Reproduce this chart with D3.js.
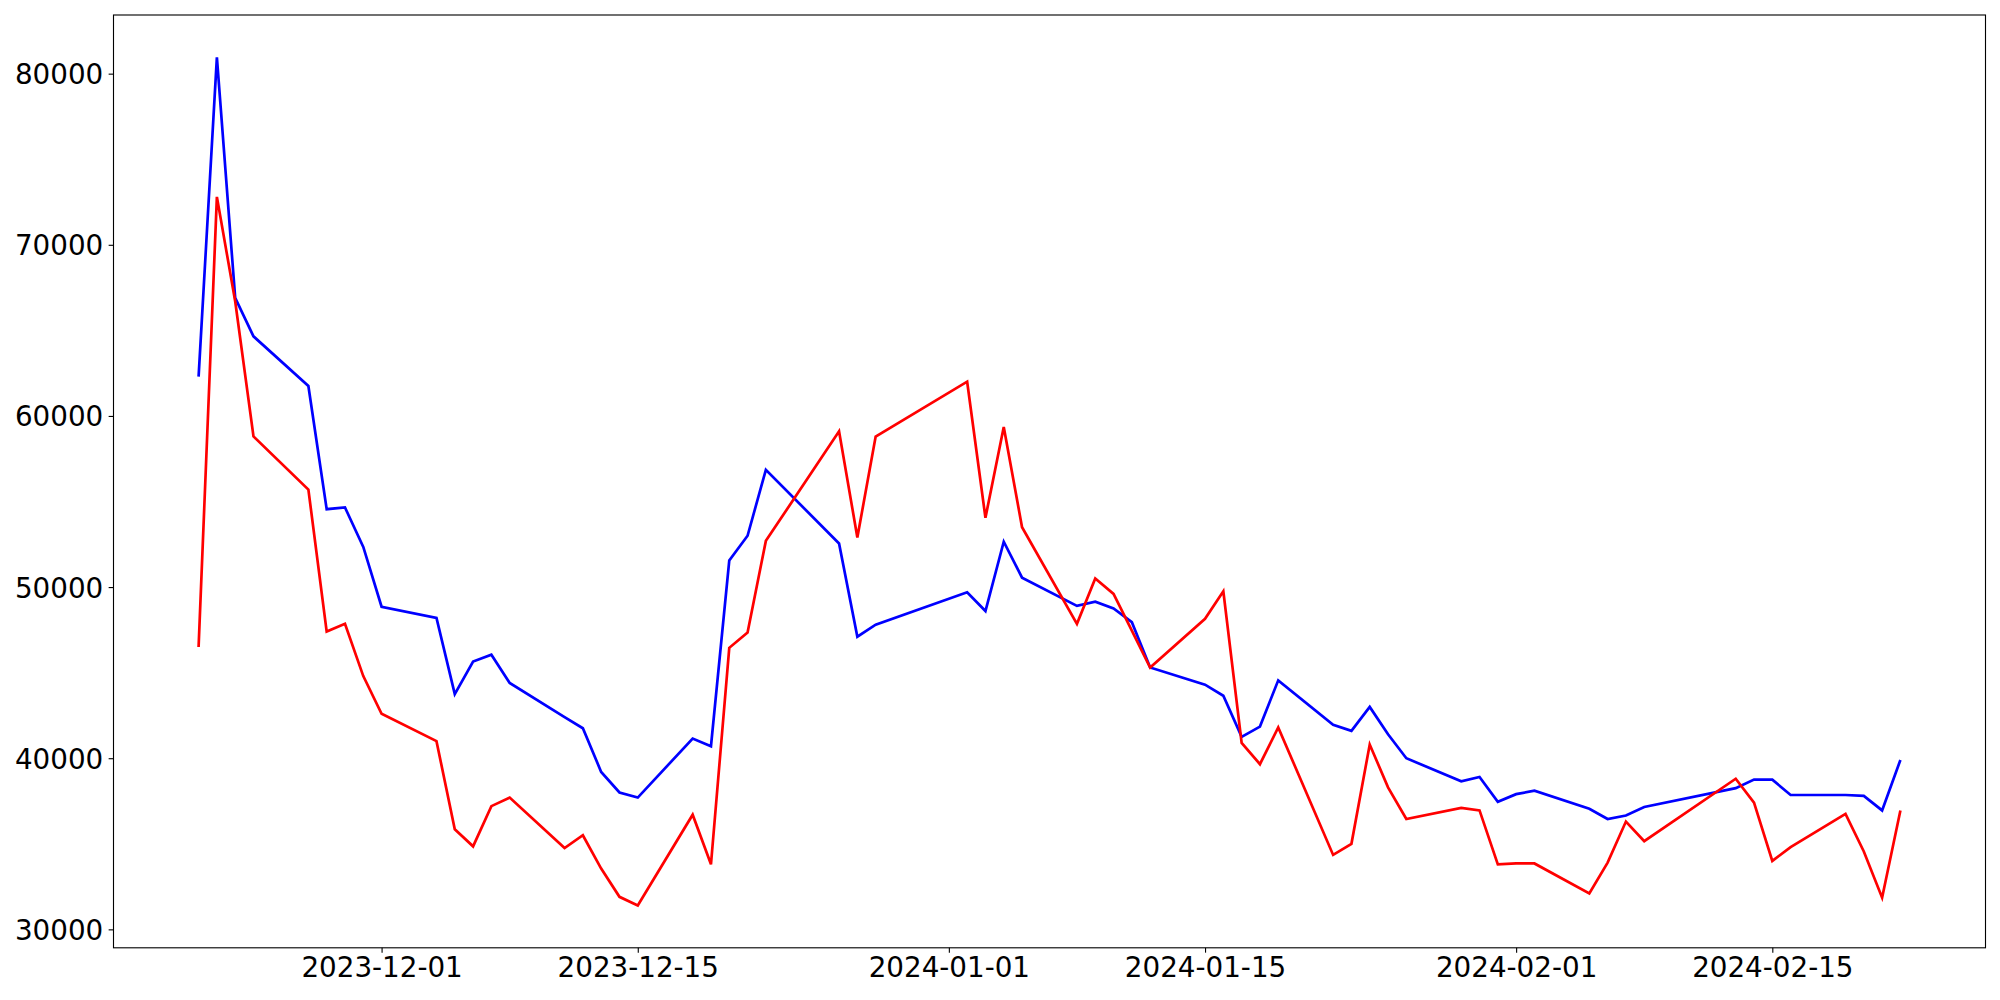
<!DOCTYPE html>
<html>
<head>
<meta charset="utf-8">
<script src="https://cdn.jsdelivr.net/npm/d3@7"></script>
<style>
  html, body { margin: 0; padding: 0; background: #fff; }
  svg { display: block; }
</style>
</head>
<body>
<svg id="chart" width="2000" height="1000"></svg>
<script>
// ---- data ----
const dates = [
  "2023-11-21","2023-11-22","2023-11-23","2023-11-24","2023-11-27","2023-11-28","2023-11-29","2023-11-30",
  "2023-12-01","2023-12-04","2023-12-05","2023-12-06","2023-12-07","2023-12-08","2023-12-11","2023-12-12",
  "2023-12-13","2023-12-14","2023-12-15","2023-12-18","2023-12-19","2023-12-20","2023-12-21","2023-12-22",
  "2023-12-26","2023-12-27","2023-12-28",
  "2024-01-02","2024-01-03","2024-01-04","2024-01-05","2024-01-08","2024-01-09","2024-01-10","2024-01-11",
  "2024-01-12","2024-01-15","2024-01-16","2024-01-17","2024-01-18","2024-01-19","2024-01-22","2024-01-23",
  "2024-01-24","2024-01-25","2024-01-26","2024-01-29","2024-01-30","2024-01-31",
  "2024-02-01","2024-02-02","2024-02-05","2024-02-06","2024-02-07","2024-02-08","2024-02-13","2024-02-14",
  "2024-02-15","2024-02-16","2024-02-19","2024-02-20","2024-02-21","2024-02-22"
];
const blueValues = [
  62300, 80950, 66900, 64650, 61750, 54550, 54650, 52350,
  48850, 48200, 43750, 45650, 46050, 44400, 42400, 41750,
  39200, 38000, 37700, 41150, 40700, 51550, 53000, 56850,
  52550, 47100, 47800,
  49700, 48600, 52650, 50550, 48900, 49150, 48750, 47950,
  45300, 44300, 43650, 41250, 41850, 44550, 41950, 41600,
  43000, 41400, 40000, 38650, 38900, 37450,
  37900, 38100, 37050, 36450, 36650, 37150, 38250, 38750,
  38750, 37850, 37850, 37800, 36950, 39900
];
const redValues = [
  46500, 72800, 66700, 58800, 55700, 47400, 47850, 44800,
  42600, 41000, 35850, 34850, 37200, 37700, 34750, 35500,
  33550, 31900, 31400, 36700, 33800, 46450, 47350, 52700,
  59100, 52900, 58800,
  62000, 54050, 59350, 53500, 47850, 50500, 49600, 47450,
  45300, 48150, 49750, 40900, 39650, 41800, 34350, 35000,
  40800, 38300, 36450, 37100, 36950, 33800,
  33850, 33850, 32100, 33900, 36300, 35150, 38800, 37400,
  34000, 34800, 36750, 34550, 31850, 36950
];
const xTickDates = ["2023-12-01","2023-12-15","2024-01-01","2024-01-15","2024-02-01","2024-02-15"];
const yTickValues = [30000, 40000, 50000, 60000, 70000, 80000];

// ---- layout ----
const W = 2000, H = 1000;
const plot = { left: 113.5, right: 1985.5, top: 15, bottom: 947.8 };
const FONT = "'DejaVu Sans', sans-serif";
const FONT_SIZE = 27.78;
const TICK = 4.86, PAD = 4.86;

const parse = d3.utcParse("%Y-%m-%d");
const xs = dates.map(parse);

// matplotlib-like 5% margins
const xExt = d3.extent(xs);
const xSpan = xExt[1] - xExt[0];
const xDomain = [new Date(+xExt[0] - 0.05 * xSpan), new Date(+xExt[1] + 0.05 * xSpan)];
const allVals = blueValues.concat(redValues);
const yExt = d3.extent(allVals);
const ySpan = yExt[1] - yExt[0];
const yDomain = [yExt[0] - 0.05 * ySpan, yExt[1] + 0.05 * ySpan];

const x = d3.scaleUtc().domain(xDomain).range([plot.left, plot.right]);
const y = d3.scaleLinear().domain(yDomain).range([plot.bottom, plot.top]);

const svg = d3.select("#chart");
svg.append("rect").attr("width", W).attr("height", H).attr("fill", "#fff");

const line = d3.line().x((d, i) => x(xs[i])).y(d => y(d));

const g = svg.append("g");
g.append("path").datum(blueValues)
  .attr("d", line).attr("fill", "none").attr("stroke", "#0000ff")
  .attr("stroke-width", 2.7).attr("stroke-linejoin", "miter").attr("stroke-linecap", "butt");
g.append("path").datum(redValues)
  .attr("d", line).attr("fill", "none").attr("stroke", "#ff0000")
  .attr("stroke-width", 2.7).attr("stroke-linejoin", "miter").attr("stroke-linecap", "butt");

// axes
const fmt = d3.utcFormat("%Y-%m-%d");
const xAxis = d3.axisBottom(x)
  .tickValues(xTickDates.map(parse))
  .tickFormat(fmt)
  .tickSizeInner(TICK).tickSizeOuter(0).tickPadding(PAD);
const gx = svg.append("g").attr("transform", `translate(0,${plot.bottom})`).call(xAxis);
gx.select(".domain").remove();
gx.selectAll(".tick line").attr("stroke", "#000").attr("stroke-width", 1.11);
gx.selectAll(".tick text")
  .attr("fill", "#000").attr("font-family", FONT).attr("font-size", FONT_SIZE)
  .attr("dy", "0.71em");

const yAxis = d3.axisLeft(y)
  .tickValues(yTickValues)
  .tickFormat(d3.format("d"))
  .tickSizeInner(TICK).tickSizeOuter(0).tickPadding(PAD + 0.5);
const gy = svg.append("g").attr("transform", `translate(${plot.left},0)`).call(yAxis);
gy.select(".domain").remove();
gy.selectAll(".tick line").attr("stroke", "#000").attr("stroke-width", 1.11);
gy.selectAll(".tick text")
  .attr("fill", "#000").attr("font-family", FONT).attr("font-size", FONT_SIZE)
  .attr("dy", "0.36em");

// spines
svg.append("rect")
  .attr("x", plot.left).attr("y", plot.top)
  .attr("width", plot.right - plot.left).attr("height", plot.bottom - plot.top)
  .attr("fill", "none").attr("stroke", "#000").attr("stroke-width", 1.11);
</script>
</body>
</html>
